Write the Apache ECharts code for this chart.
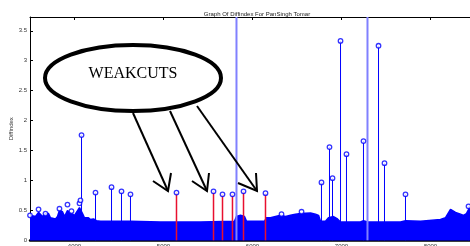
<!DOCTYPE html>
<html>
<head>
<meta charset="utf-8">
<script src="https://cdn.jsdelivr.net/npm/echarts@6/dist/echarts.min.js"></script>
<style>
  html, body { margin: 0; padding: 0; background: #fff; }
  #diffindex_chart { width: 470px; height: 246px; }
</style>
</head>
<body>
<div id="diffindex_chart"></div>
<script>
// axis ticks
const xTicks = [4000, 5000, 6000, 7000, 8000];
const yTicks = [0, 0.5, 1, 1.5, 2, 2.5, 3, 3.5];

// top edge of the dense blue stems (the "noise floor")
const baseX = [3500, 3562, 3596, 3640, 3674, 3708, 3730, 3787, 3809, 3831, 3865, 3888, 3921, 3966,
  4000, 4022, 4056, 4090, 4112, 4157, 4180, 4213, 4247, 4292, 4629, 4966, 5416, 5798, 5820, 5865,
  5910, 5933, 6135, 6157, 6202, 6258, 6315, 6371, 6427, 6483, 6539, 6652, 6708, 6742, 6764, 6820,
  6854, 6910, 6955, 6989, 7213, 7247, 7292, 7663, 7719, 7888, 8112, 8169, 8225, 8281, 8337, 8371,
  8404, 8449, 8500];
const baseY = [0.42, 0.40, 0.47, 0.40, 0.45, 0.45, 0.38, 0.36, 0.40, 0.50, 0.48, 0.40, 0.50, 0.45,
  0.42, 0.44, 0.55, 0.45, 0.38, 0.38, 0.35, 0.36, 0.33, 0.32, 0.32, 0.31, 0.31, 0.32, 0.40, 0.42,
  0.40, 0.32, 0.32, 0.38, 0.38, 0.40, 0.42, 0.40, 0.42, 0.44, 0.45, 0.46, 0.44, 0.42, 0.32, 0.32,
  0.38, 0.40, 0.36, 0.31, 0.31, 0.33, 0.31, 0.31, 0.33, 0.32, 0.35, 0.38, 0.52, 0.47, 0.44, 0.42,
  0.45, 0.58, 0.55];

// tall blue stems
const blueX = [4079, 4236, 4416, 4528, 4629, 6775, 6865, 6899, 6989, 7056, 7247, 7416, 7483, 7719, 8427];
const blueY = [1.76, 0.80, 0.89, 0.82, 0.77, 0.97, 1.56, 1.04, 3.33, 1.44, 1.66, 3.25, 1.29, 0.77, 0.57];

// weak cuts (red stems)
const redX = [5146, 5562, 5663, 5775, 5899, 6146];
const redY = [0.80, 0.82, 0.77, 0.77, 0.82, 0.79];

// stems that run off the top of the plot
const offX = [5820, 7292];
const offY = [4.5, 4.5];

// small markers sitting on the noise floor
const smallX = [3500, 3596, 3674, 3831, 3921, 3966, 4056, 4067, 6326, 6551];
const smallY = [0.42, 0.52, 0.45, 0.53, 0.60, 0.49, 0.62, 0.67, 0.44, 0.48];

const zip = (a, b) => a.map((v, i) => [v, b[i]]);

function stem(color, width) {
  return function (params, api) {
    const p0 = api.coord([api.value(0), 0]);
    const p1 = api.coord([api.value(0), api.value(1)]);
    return {
      type: "line",
      shape: { x1: p0[0], y1: p0[1], x2: p1[0], y2: p1[1] },
      style: { stroke: color, lineWidth: width },
    };
  };
}

const chart = echarts.init(document.getElementById("diffindex_chart"));

const axisFont = { fontFamily: "Liberation Sans", fontSize: 6, color: "#333" };

const option = {
  animation: false,
  title: {
    text: "Graph Of Diffindex For PanSingh Tomar",
    left: 252,
    top: 6,
    textAlign: "center",
    textStyle: { fontFamily: "Liberation Sans", fontSize: 6, fontWeight: "normal", color: "#222" },
  },
  grid: { left: 30, top: 17, right: -5, bottom: 5.5, outerBoundsMode: "none", containLabel: false },
  xAxis: [
    {
      type: "value",
      min: 3500,
      max: 8500,
      axisLine: { lineStyle: { color: "#000", width: 2.5 } },
      axisTick: { show: false },
      splitLine: { show: false },
      axisLabel: { ...axisFont, margin: 3, customValues: xTicks, formatter: (v) => String(v) },
    },
    {
      type: "value",
      position: "top",
      min: 3500,
      max: 8500,
      axisLine: { lineStyle: { color: "#000", width: 1 } },
      axisTick: { inside: true, length: 3, lineStyle: { color: "#000" }, customValues: xTicks },
      axisLabel: { show: false },
      splitLine: { show: false },
    },
  ],
  yAxis: {
    type: "value",
    min: 0,
    max: 3.73,
    name: "Diffindex",
    nameLocation: "middle",
    nameGap: 16,
    nameMoveOverlap: false,
    nameTextStyle: { fontFamily: "Liberation Sans", fontSize: 6, color: "#333" },
    axisLine: { show: true, lineStyle: { color: "#000", width: 1 } },
    axisTick: { show: true, inside: true, length: 3, lineStyle: { color: "#000" }, customValues: yTicks },
    axisLabel: { ...axisFont, margin: 3, customValues: yTicks },
    splitLine: { show: false },
  },
  series: [
    {
      // dense stems drawn as a filled floor
      type: "line",
      data: zip(baseX, baseY),
      symbol: "none",
      lineStyle: { color: "#0000ff", width: 1.5 },
      areaStyle: { color: "#0000ff", opacity: 1 },
      z: 2,
    },
    {
      type: "custom",
      data: zip(offX, offY),
      renderItem: stem("#8080ff", 2),
      clip: true,
      z: 3,
    },
    {
      type: "custom",
      data: zip(blueX, blueY),
      renderItem: stem("#0000ff", 1),
      clip: true,
      z: 3,
    },
    {
      type: "custom",
      data: zip(redX, redY),
      renderItem: stem("#e8102e", 1.5),
      clip: true,
      z: 3,
    },
    {
      type: "scatter",
      data: zip(blueX, blueY).concat(zip(redX, redY), zip(smallX, smallY)),
      symbol: "circle",
      symbolSize: 4.5,
      itemStyle: { color: "#ffffff", borderColor: "#0000ff", borderWidth: 1.3 },
      z: 4,
    },
  ],
  graphic: [
    // "WEAKCUTS" callout
    {
      type: "ellipse",
      shape: { cx: 133, cy: 78, rx: 88, ry: 33 },
      style: { fill: "#fff", stroke: "#000", lineWidth: 4 },
      z: 10,
    },
    {
      type: "text",
      x: 133,
      y: 74,
      style: {
        text: "WEAKCUTS",
        font: "16px 'Liberation Serif'",
        fill: "#000",
        align: "center",
        verticalAlign: "middle",
      },
      z: 11,
    },
    { type: "polyline", shape: { points: [[133, 113], [168, 191]] }, style: { stroke: "#000", lineWidth: 2 }, z: 10 },
    { type: "polyline", shape: { points: [[153, 181], [168, 191], [171, 173]] }, style: { stroke: "#000", lineWidth: 2, fill: null }, z: 10 },
    { type: "polyline", shape: { points: [[170, 111], [207, 191]] }, style: { stroke: "#000", lineWidth: 2 }, z: 10 },
    { type: "polyline", shape: { points: [[192, 181], [207, 191], [209, 173]] }, style: { stroke: "#000", lineWidth: 2, fill: null }, z: 10 },
    { type: "polyline", shape: { points: [[197, 106], [257, 191]] }, style: { stroke: "#000", lineWidth: 2 }, z: 10 },
    { type: "polyline", shape: { points: [[238, 183], [257, 191], [256, 173]] }, style: { stroke: "#000", lineWidth: 2, fill: null }, z: 10 },
  ],
};

chart.setOption(option);
</script>
</body>
</html>
